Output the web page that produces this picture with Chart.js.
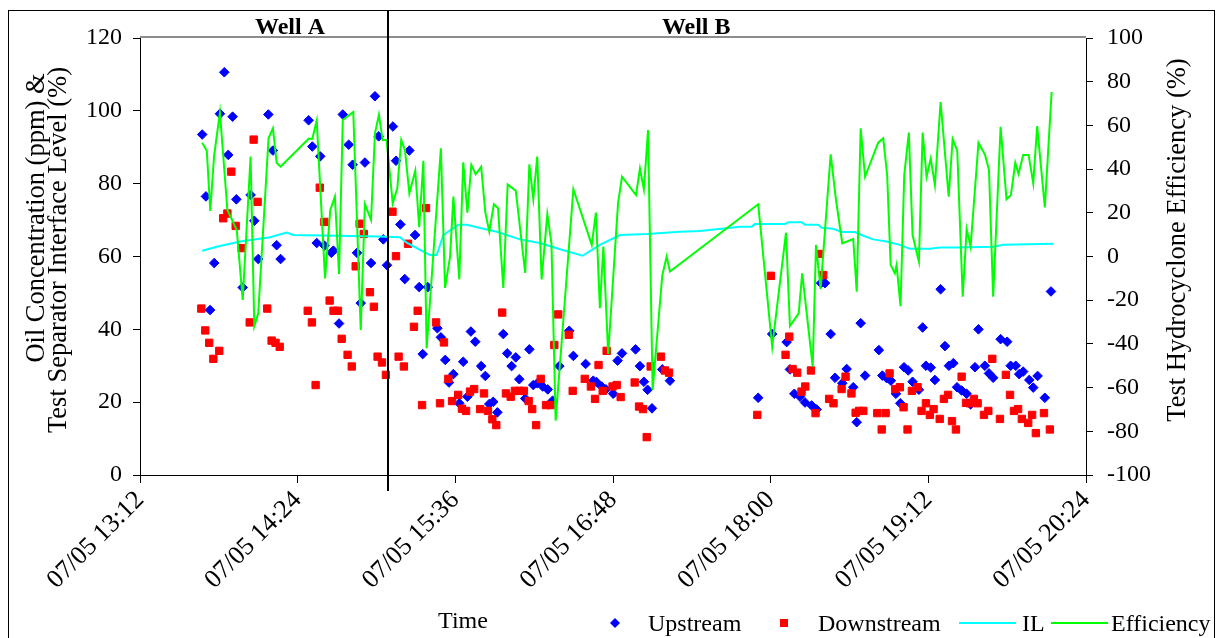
<!DOCTYPE html>
<html>
<head>
<meta charset="utf-8">
<script src="https://cdn.jsdelivr.net/npm/chart.js@4.4.0/dist/chart.umd.min.js"></script>
<style>
  html, body { margin: 0; padding: 0; background: #fff; }
  #wrap { position: relative; width: 1224px; height: 638px; }
</style>
</head>
<body>
<div id="wrap"><canvas id="hcChart"></canvas></div>
<script>
// time axis: minutes after 07/05 13:12
const START_MIN = 13 * 60 + 12;
const WELL_SWITCH = 113.2; // Well A -> Well B

const upTime = [28.4, 30.1, 32, 33.9, 36.5, 38.5, 40.3, 42.3, 44, 46.9, 50.5, 52.2, 54, 58.6, 60.7, 62.4, 64.2, 77, 78.7, 80.7,
  82.3, 84.2, 87.4, 88.3, 90.9, 92.6, 95.3, 97.1, 99.1, 100.8, 102.7, 105.5, 107.3, 109, 111.1, 112.8,
  115.5, 116.9, 118.9, 120.9, 123, 125.6, 127.5, 129.1, 131.4, 135.8, 137.4, 139.4, 141.1, 143.1, 145.8, 147.6, 149.5, 151.1, 153.1, 155.8,
  157.7, 159.5, 161.3, 163.2, 165.9, 167.7, 169.7, 171.6, 173.2, 175.9, 177.8, 179.6, 181.4, 183.9, 186.2, 188.4, 191.5, 196, 197.9, 203.5,
  207, 208.5, 210.8, 212.8, 216.1, 218.1, 220.1, 226.3, 228.3, 230.1, 231.8, 233.8, 238.5, 242,
  282.3, 288.7, 295.3, 296.8, 298.8, 301.4, 303.7, 306.7, 309, 311, 312.8, 315.4, 317.4, 320.7, 322.7, 325.7, 327.3, 329.1, 331.1, 337.4,
  339, 341, 342.9, 345.2, 347.2, 348.9, 350.8, 352.8, 355.7, 357.4, 358.9, 361.1, 363, 365.6, 367.6, 369.4, 371.4, 373.1, 375.2, 377.5,
  379.3, 381.3, 382.9, 385.8, 387.7, 389.6, 393, 396, 397.6, 399.9, 401.5, 403.3, 406.1, 407.9, 409.9, 413.2, 416];
const upPpm = [93.5, 76.5, 45.3, 58.2, 99.2, 110.6, 87.9, 98.4, 75.7, 51.5, 76.9, 69.8, 59.3, 99, 89.1, 63.1, 59.3, 97.4, 90.2, 63.7,
  87.5, 63, 61, 61.6, 41.6, 99, 90.7, 85.2, 61, 47.2, 85.8, 58.2, 104, 93, 64.7, 57.6,
  95.7, 86.3, 68.8, 53.8, 89.1, 65.9, 51.6, 33.2, 51.6, 40.3, 37.8, 31.6, 25.4, 27.7, 19.7, 31.1, 21.5, 39.4, 36.6, 29.9,
  27.2, 19.5, 20.1, 17.2, 38.7, 33.4, 29.9, 32.3, 26.3, 21, 34.5, 24.7, 25.2, 24.3, 23.5, 20.4, 29.9, 39.6, 32.7, 30.5,
  25.9, 25.5, 24.3, 23.5, 22.3, 31.4, 33.4, 34.5, 29.9, 25.6, 23.4, 18.3, 29, 25.9,
  21.2, 38.7, 36.5, 29, 22.3, 21.5, 19.9, 19.1, 18, 52.7, 52.7, 38.7, 26.7, 25.2, 29.1, 24.1, 14.5, 41.7, 27.3, 34.3,
  27.3, 26.6, 25.9, 22.3, 19.7, 29.6, 28.7, 25.6, 23.4, 40.5, 30, 29.5, 26.1, 51, 35.4, 30, 30.7, 24.1, 23.2, 22.3,
  19.4, 29.6, 40, 30, 27.9, 26.7, 37.3, 36.6, 30, 30, 27.7, 28.4, 26.1, 24, 27.2, 21.2, 50.4];

const downTime = [28, 29.8, 31.6, 33.5, 36.2, 38, 39.9, 41.7, 43.7, 46.4, 50.1, 51.9, 53.7, 58.1, 60.1, 61.9, 63.8, 76.6, 78.5, 80.2,
  82.1, 84.2, 86.6, 88.4, 90.4, 92.1, 94.8, 96.7, 98.5, 100.3, 102.2, 105, 106.8, 108.5, 110.5, 112.3,
  115.3, 116.9, 118.1, 120.5, 122.4, 125.1, 126.8, 128.8, 130.6, 135.2, 137, 138.8, 140.8, 142.5, 145.3, 147, 148.9, 150.7, 152.6, 155.3,
  157.1, 158.9, 160.9, 162.7, 165.4, 167.1, 169.3, 171.2, 173.2, 175.3, 177.5, 179.1, 180.9, 183, 185.4, 187.5, 189.2, 191, 195.8, 197.6,
  203.1, 205.9, 207.8, 209.4, 211.3, 213.1, 215.8, 217.7, 219.5, 225.9, 227.9, 229.7, 231.4, 233.2, 237.9, 239.7, 241.6,
  281.9, 288.1, 294.8, 296.5, 298, 300.1, 302.1, 303.8, 306.4, 308.5, 310.5, 312, 314.7, 316.7, 320.4, 322.2, 324.9, 326.8, 328.4, 330.3,
  336.7, 338.7, 340.5, 342.3, 344.9, 347, 348.7, 350.5, 352.5, 355.1, 356.9, 358.9, 360.7, 362.4, 365.2, 367.1, 369, 370.8, 372.6, 375.2,
  377.2, 379, 380.8, 382.5, 385.4, 387.4, 389.2, 392.7, 395.4, 397.3, 399.1, 401, 402.7, 405.6, 407.4, 409.1, 412.8, 415.5];
const downPpm = [45.7, 39.7, 36.3, 31.9, 34.1, 70.5, 71.8, 83.3, 68.4, 62.3, 41.9, 92.1, 75, 45.7, 36.9, 36.3, 35.2, 45.1, 41.9, 24.7,
  78.9, 69.5, 47.9, 45.1, 45.1, 37.4, 33, 29.8, 57.3, 69, 66.2, 50.2, 46.2, 32.5, 30.9, 27.5,
  72.3, 60.1, 32.5, 29.8, 63.5, 40.7, 45.1, 19.2, 73.3, 41.9, 19.7, 36.4, 26.4, 20.3, 22, 18.2, 17.6, 22.9, 23.6, 18.1,
  22.4, 17.6, 15.3, 13.7, 44.6, 22.4, 21.5, 23.1, 23.1, 23.1, 20.3, 18.1, 13.7, 26.4, 19.2, 19.2, 35.7, 44.1, 38.5, 23.1,
  26.4, 24.3, 20.9, 30.2, 23.1, 34.1, 24.3, 24.7, 21.4, 25.4, 18.8, 18.1, 10.4, 29.8, 32.5, 28.7, 28.1,
  16.5, 54.7, 33, 38, 29.1, 28.1, 22.9, 24.3, 28.7, 17, 60.7, 54.9, 20.9, 19.7, 23.6, 27, 22.4, 17.1, 17.6, 17.6,
  17, 12.5, 17, 27.9, 23.6, 24.1, 18.6, 12.5, 23.1, 24.1, 17.6, 19.7, 16.5, 18.1, 15.4, 20.9, 22, 14.8, 12.5, 27,
  19.8, 19.7, 20.9, 19.7, 16.5, 17.6, 31.9, 15.4, 27.5, 22, 17.6, 18.1, 15.4, 14.3, 16.5, 11.5, 17, 12.5];

const ilTime = [28.4, 35, 45.7, 59.4, 67, 70, 109.6, 118.7, 121.8, 127.9, 132.4, 135.5, 138.5, 145.3, 149.2, 155.3, 162.9, 173.5, 182.6, 191.8,
  202.1, 210, 219.2, 231.4, 246.6, 255.7, 274, 279.3, 280.8, 294.5, 296, 302.1, 303.7, 309.7, 311.3, 316.6, 320.4, 326.5, 330.3, 334.8,
  340.9, 347, 351.6, 360.7, 365.3, 372.9, 389.6, 394.2, 417];
const ilLevel = [61.6, 62.7, 64.1, 65.3, 66.6, 65.9, 65.5, 65.3, 63.8, 61.8, 60.4, 60.4, 65.9, 68.7, 68.7, 67.8, 66.8, 64.7, 63.7, 62,
  60.2, 63.2, 65.9, 66.2, 66.8, 67, 68.2, 68.2, 68.9, 68.9, 69.4, 69.4, 68.7, 68.7, 67.9, 67.6, 66.7, 66.7, 65.7, 64.7,
  64.1, 63.2, 62.1, 62.1, 62.5, 62.5, 62.7, 63.2, 63.5];

const effTime = [28.4, 30.5, 32.1, 33.8, 36.5, 39.9, 44.2, 46.9, 50.5, 52.2, 54, 58.7, 60.7, 62.4, 64.2, 77, 78.7, 80.7, 84.5, 86.9,
  89, 90.9, 92.6, 97.4, 100.8, 102.7, 105.5, 107.3, 109.1, 110.8, 112.6, 115.4, 117.5, 119.3, 121, 123, 125.7, 127.5, 129.4, 130.9,
  137.4, 139.3, 141.6, 143.1, 145.8, 147.6, 149.5, 151.3, 153.3, 155.8, 157.7, 159.5, 161.6, 163.5, 165.9, 167.9, 171.6, 175.9, 177.8, 179.6,
  181.4, 183.4, 186, 187.9, 189.8, 197.9, 206.3, 208.2, 210, 211.6, 213.8, 218.3, 220.1, 226.5, 228.3, 230.1, 232, 234.1, 238.5, 240.5,
  242, 282.3, 288.7, 295, 296.8, 300.8, 302.4, 307.2, 308.7, 310.8, 315.4, 317.8, 320.7, 325.7, 327.3, 329.1, 331.1, 337.1, 339.4, 341.2,
  342.8, 344.7, 345.5, 347.3, 349, 351.1, 352.8, 355.7, 357.4, 359.2, 361.1, 363, 365.6, 369.3, 371.1, 373.2, 375.7, 377.5, 379.3, 382.9,
  385.9, 387.7, 389.6, 393, 395.7, 397.7, 399.7, 401.2, 403.3, 405.8, 407.9, 409.7, 413.2, 416.3];
const effPct = [52.1, 48.4, 20.8, 45.7, 66, 21.3, 12.1, -19.9, 45.7, -31.8, -26, 54.1, 58.7, 42.9, 41.1, 53.9, 53.9, 62.2, -10, 21.3,
  27.4, -8, 62.5, 66.1, -33.6, 24, 16.7, 56.4, 64.9, 53.3, 53.3, 24.3, 31.2, 53.3, 48.7, 28.9, 39.3, 13.4, 43.8, -42,
  49.5, -14.4, -0.1, 27.4, -10.5, 43.1, 20.1, 41.9, 37.6, 41.1, 20.1, 11.4, 23.9, 22.1, -14.4, 33, 30.1, -7.5, 42.2, 26.3,
  45.7, -10.5, 19.3, 6, -75.1, 30.8, 5.3, 20.1, -23.7, 4.5, -44.6, 24.3, 36.5, 28.1, 40.3, 30.8, 57.9, -61.1, -8.7, 0,
  -6.9, 23.9, -41.3, 10.9, -31.8, -26, -7.7, -50.4, 5.3, -14.9, 46.8, 26.2, 6, 8, -16.1, 58.7, 36.5, 52.1, 54.1, 37.3,
  -3.9, -7.7, -3.9, -22.7, 37.3, 56.7, 9.8, -2.4, 56.7, 36.5, 44.8, 32.7, 70.7, 27.4, 53.8, 48.4, -18.4, 12.6, 4.5, 52.1,
  46.5, 39.6, -18.4, 59.4, 26.2, 28.1, 42.9, 37.8, 46.5, 46.5, 33.5, 59.7, 22.5, 75.3];

const SERIF = "'Liberation Serif', 'Times New Roman', serif";

function pts(xs, ys) {
  return xs.map(function (x, i) { return { x: x, y: ys[i] }; });
}

function clock(value) {
  const m = Math.round(START_MIN + value);
  const hh = String(Math.floor(m / 60)).padStart(2, "0");
  const mm = String(m % 60).padStart(2, "0");
  return "07/05 " + hh + ":" + mm;
}

// titles, legend, well markers and frame
const decor = {
  id: "decor",
  afterDraw(chart) {
    const ctx = chart.ctx;
    const area = chart.chartArea;
    const xs = chart.scales.x;
    ctx.save();

    // outer frame
    ctx.strokeStyle = "#000";
    ctx.lineWidth = 1;
    ctx.strokeRect(8.5, 10.5, 1206, 700);

    // top edge of plot area
    ctx.strokeStyle = "#8c8c8c";
    ctx.lineWidth = 2;
    ctx.beginPath();
    ctx.moveTo(area.left, area.top - 1);
    ctx.lineTo(area.right, area.top - 1);
    ctx.stroke();

    // well divider
    const xd = Math.round(xs.getPixelForValue(WELL_SWITCH));
    ctx.strokeStyle = "#000";
    ctx.lineWidth = 2;
    ctx.beginPath();
    ctx.moveTo(xd, 11);
    ctx.lineTo(xd, area.bottom + 16);
    ctx.stroke();

    ctx.fillStyle = "#000";
    ctx.font = "bold 24px " + SERIF;
    ctx.textAlign = "center";
    ctx.textBaseline = "alphabetic";
    ctx.fillText("Well A", xs.getPixelForValue(68.5), 34);
    ctx.fillText("Well B", xs.getPixelForValue(254), 34);

    // axis titles
    ctx.font = "26.5px " + SERIF;
    function vtext(text, x, y) {
      ctx.save();
      ctx.translate(x, y);
      ctx.rotate(-Math.PI / 2);
      ctx.fillText(text, 0, 0);
      ctx.restore();
    }
    vtext("Oil Concentration (ppm) &", 44, 218);
    vtext("Test Separator Interface Level (%)", 66, 250);
    vtext("Test Hydrocyclone Efficiency (%)", 1185, 240);

    ctx.font = "24px " + SERIF;
    ctx.fillText("Time", 463, 628);

    // legend
    const ly = 623;
    ctx.textAlign = "left";
    ctx.fillStyle = "#0000ff";
    ctx.beginPath();
    ctx.moveTo(610, ly); ctx.lineTo(615, ly - 5); ctx.lineTo(620, ly); ctx.lineTo(615, ly + 5);
    ctx.closePath();
    ctx.fill();
    ctx.fillStyle = "#ff0000";
    ctx.fillRect(780, ly - 4, 8, 8);
    ctx.lineWidth = 2;
    ctx.strokeStyle = "#00ffff";
    ctx.beginPath(); ctx.moveTo(959, ly); ctx.lineTo(1016, ly); ctx.stroke();
    ctx.strokeStyle = "#00ff00";
    ctx.beginPath(); ctx.moveTo(1051, ly); ctx.lineTo(1108, ly); ctx.stroke();
    ctx.fillStyle = "#000";
    ctx.fillText("Upstream", 648, ly + 8);
    ctx.fillText("Downstream", 818, ly + 8);
    ctx.fillText("IL", 1022, ly + 8);
    ctx.fillText("Efficiency", 1111, ly + 8);

    ctx.restore();
  },
};

const tickFont = { family: SERIF, size: 24 };

new Chart(document.getElementById("hcChart"), {
  type: "scatter",
  data: {
    datasets: [
      {
        label: "Upstream",
        data: pts(upTime, upPpm),
        yAxisID: "y",
        pointStyle: "rectRot",
        pointRadius: 4.8,
        backgroundColor: "#0000ff",
        borderColor: "#0000ff",
        borderWidth: 1,
        order: 4,
      },
      {
        label: "Downstream",
        data: pts(downTime, downPpm),
        yAxisID: "y",
        pointStyle: "rect",
        pointRadius: 5.2,
        backgroundColor: "#ff0000",
        borderColor: "#ff0000",
        borderWidth: 1,
        order: 3,
      },
      {
        label: "IL",
        data: pts(ilTime, ilLevel),
        yAxisID: "y",
        showLine: true,
        pointRadius: 0,
        borderColor: "#00ffff",
        borderWidth: 2,
        tension: 0,
        order: 2,
      },
      {
        label: "Efficiency",
        data: pts(effTime, effPct),
        yAxisID: "y2",
        showLine: true,
        pointRadius: 0,
        borderColor: "#00ff00",
        borderWidth: 2,
        tension: 0,
        order: 1,
      },
    ],
  },
  options: {
    responsive: true,
    maintainAspectRatio: false,
    animation: false,
    layout: { padding: { top: 38, left: 0, right: 0, bottom: 0 } },
    plugins: {
      legend: { display: false },
      tooltip: { enabled: false },
    },
    scales: {
      x: {
        type: "linear",
        min: 0,
        max: 432,
        afterFit: function (scale) { scale.height = 163; },
        border: { color: "#000", width: 1 },
        grid: { drawOnChartArea: false, drawTicks: true, tickLength: 8, color: "#000" },
        ticks: {
          stepSize: 72,
          autoSkip: false,
          minRotation: 45,
          maxRotation: 45,
          padding: 2,
          color: "#000",
          font: { family: SERIF, size: 26 },
          callback: function (value) { return clock(value); },
        },
      },
      y: {
        position: "left",
        min: 0,
        max: 120,
        afterFit: function (scale) { scale.width = 140; },
        border: { color: "#000", width: 1 },
        grid: { drawOnChartArea: false, drawTicks: true, tickLength: 7, color: "#000" },
        ticks: { stepSize: 20, padding: 11, color: "#000", font: tickFont },
      },
      y2: {
        position: "right",
        min: -100,
        max: 100,
        afterFit: function (scale) { scale.width = 138; },
        border: { color: "#000", width: 1 },
        grid: { drawOnChartArea: false, drawTicks: true, tickLength: 7, color: "#000" },
        ticks: { stepSize: 20, padding: 14, color: "#000", font: tickFont },
      },
    },
  },
  plugins: [decor],
});
</script>
</body>
</html>
